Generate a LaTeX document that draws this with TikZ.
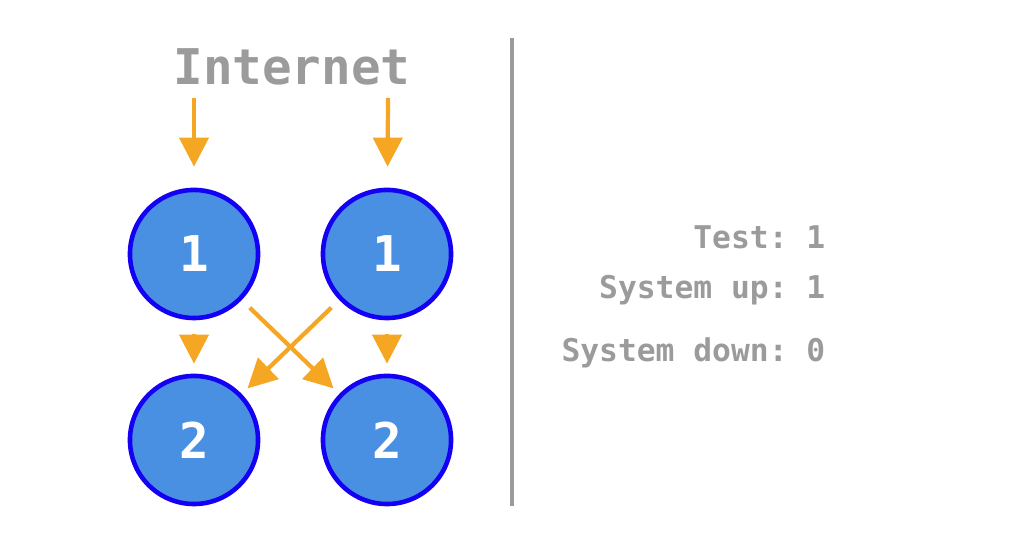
\documentclass[tikz,border=0pt]{standalone}
\usepackage{fontspec}
\setmonofont{DejaVu Sans Mono}
\usepackage{xcolor}
\usetikzlibrary{arrows.meta}
\definecolor{flowc}{HTML}{F5A623}
\definecolor{nodefill}{HTML}{4A90E2}
\definecolor{nodeline}{HTML}{1400F5}
\definecolor{greyc}{HTML}{9B9B9B}
\tikzset{
	server/.style={circle, fill=nodefill, draw=nodeline, line width=1.3pt, minimum size=1.28cm, inner sep=0pt, text=white, font=\ttfamily\bfseries\fontsize{14}{16}\selectfont},
	flow/.style={draw=flowc, line width=1.2pt, -{Triangle[width=0.29cm, length=0.29cm]}},
	stat/.style={anchor=east, text=greyc, inner sep=0pt, font=\ttfamily\bfseries\fontsize{8.9}{10}\selectfont}
}
\begin{document}
\begin{tikzpicture}[x=0.01cm, y=-0.01cm]
		      		\useasboundingbox (0,0) rectangle (1024,559);
		      		
		      		\node[text=greyc, font=\ttfamily\bfseries\fontsize{14}{16}\selectfont] (inet) at (292,67) {Internet};
		      		\coordinate (in1) at (194,98);
		      		\coordinate (in2) at (388,98);
		      		   
		      		\node[server] (a1) at (194,254) {1};
		      		\node[server] (b1) at (387,254) {1};
		      		\node[server] (a2) at (194,440) {2};
		      		\node[server] (b2) at (387,440) {2};
		      		
		      		\draw[flow, shorten >=0.21cm] (in1) -- (a1);
		      		\draw[flow, shorten >=0.21cm] (in2) -- (b1);
		      		\draw[flow, shorten <=0.14cm, shorten >=0.10cm] (a1) -- (a2);
		      		\draw[flow, shorten <=0.14cm, shorten >=0.10cm] (b1) -- (b2);
		      		\draw[flow, shorten <=0.11cm, shorten >=0.08cm] (a1) -- (b2);
		      		\draw[flow, shorten <=0.11cm, shorten >=0.08cm] (b1) -- (a2);
		      		  
		      		\coordinate (divtop) at (512,38);
		      		\coordinate (divbot) at (512,506);
		      		\draw[greyc, line width=1.15pt] (divtop) -- (divbot);
		      		
		      		\node[stat] (test) at (826,237) {Test: 1};
		      		\node[stat] (up) at (826,290) {System up: 1};
		      		\node[stat] (down) at (826,353) {System down: 0};
		      		  
		      	\end{tikzpicture}
\end{document}
